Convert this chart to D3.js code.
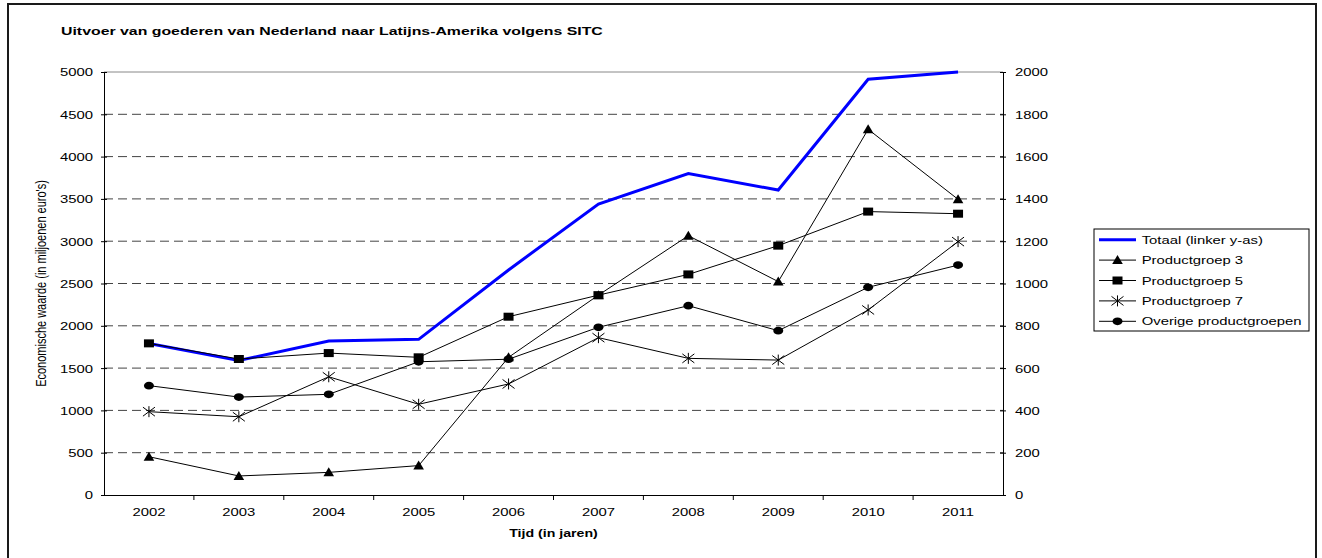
<!DOCTYPE html>
<html>
<head>
<meta charset="utf-8">
<title>Uitvoer naar Latijns-Amerika</title>
<style>
  body { margin: 0; background: #fff; }
  svg text { font-family: "Liberation Sans", Arial, sans-serif; fill: #000; }
</style>
</head>
<body>
<svg id="grafiek" width="1322" height="558"></svg>
<script src="https://d3js.org/d3.v7.min.js"></script>
<script>
// data (miljoenen euro's)
var jaren = ["2002", "2003", "2004", "2005", "2006", "2007", "2008", "2009", "2010", "2011"];
var totaal = [1790, 1590, 1820, 1840, 2660, 3440, 3800, 3605, 4915, 5000];   // linker y-as
var groep3 = [181, 90, 107, 139, 651, 945, 1226, 1009, 1729, 1398];
var groep5 = [717, 643, 671, 651, 843, 945, 1043, 1179, 1340, 1330];
var groep7 = [394, 370, 559, 429, 525, 744, 646, 638, 875, 1198];
var overige = [517, 463, 476, 630, 642, 793, 895, 777, 982, 1087];
var ticksLinks = [0, 500, 1000, 1500, 2000, 2500, 3000, 3500, 4000, 4500, 5000];
var ticksRechts = [0, 200, 400, 600, 800, 1000, 1200, 1400, 1600, 1800, 2000];
var legendaNamen = ["Totaal (linker y-as)", "Productgroep 3", "Productgroep 5", "Productgroep 7", "Overige productgroepen"];

var SX = 1.35; // het origineel is horizontaal uitgerekt

var svg = d3.select("#grafiek");

var links = 104, rechts = 1003, boven = 72, onder = 495;

var x = d3.scaleBand().domain(jaren).range([links, rechts]);
var yL = d3.scaleLinear().domain([0, 5000]).range([onder, boven]);
var yR = d3.scaleLinear().domain([0, 2000]).range([onder, boven]);
var midden = function (j) { return x(j) + x.bandwidth() / 2; };

function rek(sel) {
    sel.each(function () {
        var t = d3.select(this);
        var xx = +(t.attr("x") || 0);
        t.attr("x", xx / SX).attr("transform", "scale(" + SX + ",1)");
    });
}

// kader
svg.append("rect")
    .attr("x", 8).attr("y", 4).attr("width", 1308).attr("height", 580)
    .attr("fill", "#fff").attr("stroke", "#1a1a1a").attr("stroke-width", 2);

// titel
svg.append("g").attr("transform", "translate(61,35) scale(1.38,1)")
    .append("text")
    .attr("font-size", "11.5px").attr("font-weight", "bold")
    .text("Uitvoer van goederen van Nederland naar Latijns-Amerika volgens SITC");

// rasterlijnen
svg.append("g").selectAll("line")
    .data(ticksLinks.filter(function (d) { return d > 0; }))
    .enter().append("line")
    .attr("x1", links).attr("x2", rechts)
    .attr("y1", function (d) { return yL(d); })
    .attr("y2", function (d) { return yL(d); })
    .attr("stroke", function (d) { return d === 5000 ? "#888" : "#444"; })
    .attr("stroke-dasharray", function (d) { return d === 5000 ? null : "9,5"; })
    .attr("stroke-width", 1);

// linker as
var asL = svg.append("g").attr("transform", "translate(" + links + ",0)")
    .call(d3.axisLeft(yL).tickValues(ticksLinks).tickFormat(d3.format("d")).tickSizeOuter(0).tickSize(3));
asL.select(".domain").attr("stroke", "#000");
asL.selectAll(".tick line").attr("x1", 3).attr("x2", -3).attr("stroke", "#000");
asL.selectAll(".tick text").attr("font-size", "11px").attr("x", -11).attr("dy", "0.36em").call(rek);

// rechter as
var asR = svg.append("g").attr("transform", "translate(" + rechts + ",0)")
    .call(d3.axisRight(yR).tickValues(ticksRechts).tickFormat(d3.format("d")).tickSizeOuter(0).tickSize(3));
asR.select(".domain").attr("stroke", "#000");
asR.selectAll(".tick line").attr("x1", -3).attr("x2", 3).attr("stroke", "#000");
asR.selectAll(".tick text").attr("font-size", "11px").attr("x", 12).attr("dy", "0.36em").call(rek);

// x-as
var asX = svg.append("g").attr("transform", "translate(0," + onder + ")")
    .call(d3.axisBottom(x).tickSize(0).tickSizeOuter(0));
asX.select(".domain").attr("stroke", "#000");
asX.selectAll(".tick text").attr("font-size", "11px").attr("y", 21).attr("dy", 0).call(rek);
asX.selectAll(".grens").data(jaren.slice(1)).enter().append("line")
    .attr("class", "grens")
    .attr("x1", function (d) { return x(d); }).attr("x2", function (d) { return x(d); })
    .attr("y1", 0).attr("y2", 5).attr("stroke", "#000");

// astitels
svg.append("g").attr("transform", "translate(41," + ((boven + onder) / 2) + ") scale(" + SX + ",1) rotate(-90)")
    .append("text").attr("text-anchor", "middle").attr("dy", "0.35em")
    .attr("font-size", "11px")
    .text("Economische waarde (in miljoenen euro's)");

svg.append("g").attr("transform", "translate(" + ((links + rechts) / 2) + ",537) scale(" + SX + ",1)")
    .append("text").attr("text-anchor", "middle")
    .attr("font-size", "10.5px").attr("font-weight", "bold")
    .text("Tijd (in jaren)");

// markers
function tekenMarker(g, soort) {
    if (soort === "driehoek") {
        g.append("path").attr("d", "M0,-5L5.3,4L-5.3,4Z").attr("fill", "#000");
    } else if (soort === "vierkant") {
        g.append("rect").attr("x", -5).attr("y", -4).attr("width", 10).attr("height", 8).attr("fill", "#000");
    } else if (soort === "ster") {
        g.append("path")
            .attr("d", "M0,-5.5V5.5M-6,-4.5L6,4.5M-6,4.5L6,-4.5")
            .attr("stroke", "#000").attr("stroke-width", 1).attr("fill", "none");
    } else if (soort === "rondje") {
        g.append("ellipse").attr("rx", 5).attr("ry", 3.9).attr("fill", "#000");
    }
}

var lijn = d3.line();

// totaal (linker y-as)
svg.append("path")
    .attr("d", lijn(jaren.map(function (j, i) { return [midden(j), yL(totaal[i])]; })))
    .attr("fill", "none").attr("stroke", "#0000ff").attr("stroke-width", 3)
    .attr("stroke-linejoin", "miter");

var reeksen = [
    { waarden: groep3, marker: "driehoek" },
    { waarden: groep5, marker: "vierkant" },
    { waarden: groep7, marker: "ster" },
    { waarden: overige, marker: "rondje" }
];

reeksen.forEach(function (r) {
    svg.append("path")
        .attr("d", lijn(jaren.map(function (j, i) { return [midden(j), yR(r.waarden[i])]; })))
        .attr("fill", "none").attr("stroke", "#000").attr("stroke-width", 1);
    jaren.forEach(function (j, i) {
        var g = svg.append("g").attr("transform", "translate(" + midden(j) + "," + yR(r.waarden[i]) + ")");
        tekenMarker(g, r.marker);
    });
});

// legenda
var leg = svg.append("g");
leg.append("rect").attr("x", 1094).attr("y", 229).attr("width", 215).attr("height", 102)
    .attr("fill", "#fff").attr("stroke", "#000").attr("stroke-width", 1);
var markers = [null, "driehoek", "vierkant", "ster", "rondje"];
legendaNamen.forEach(function (naam, i) {
    var yy = 239.7 + i * 20.4;
    leg.append("line").attr("x1", 1099).attr("x2", 1136).attr("y1", yy).attr("y2", yy)
        .attr("stroke", i === 0 ? "#0000ff" : "#000").attr("stroke-width", i === 0 ? 3 : 1);
    if (markers[i]) {
        tekenMarker(leg.append("g").attr("transform", "translate(1117.5," + yy + ")"), markers[i]);
    }
    leg.append("g").attr("transform", "translate(1141.7," + (yy + 4) + ") scale(" + SX + ",1)")
        .append("text").attr("font-size", "11px").text(naam);
});
</script>
</body>
</html>
